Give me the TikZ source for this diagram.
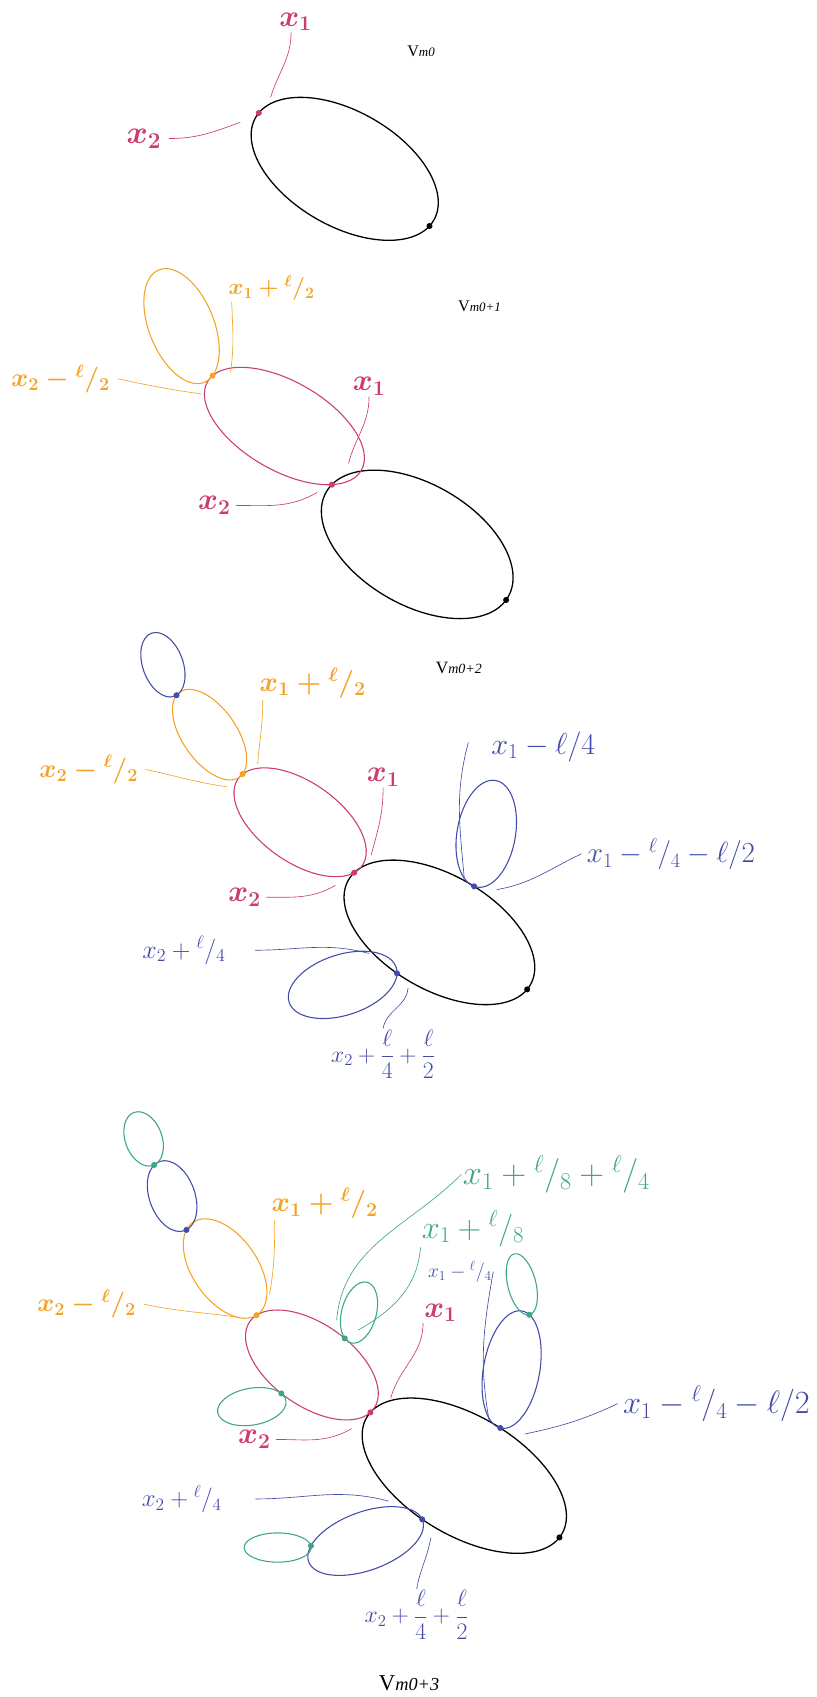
\RequirePackage{fix-cm}
\documentclass[tikz,border=0pt]{standalone}
\usepackage{amsmath}
\usepackage{fontspec}
\setmainfont{Liberation Serif}
\usetikzlibrary{shapes.geometric}

\definecolor{rose}{RGB}{205,60,110}
\definecolor{orng}{RGB}{244,163,38}
\definecolor{bleu}{RGB}{66,76,168}
\definecolor{vert}{RGB}{62,166,136}

\newcommand\nf[2]{{}^{#1}/_{#2}}
\newcommand\taille[1]{\fontsize{#1}{#1}\selectfont}

\tikzset{
  boucle/.style={draw=#1, ellipse, inner sep=0pt, outer sep=0pt, line width=1pt},
  ray/.style 2 args={minimum width=#1*2bp, minimum height=#2*2bp},
  lien/.style={draw=#1, line width=0.6pt},
  lab/.style={text=#1, inner sep=1pt},
}

\begin{document}
\begin{tikzpicture}[x=1bp, y=-1bp]
  \useasboundingbox (0,0) rectangle (754,1568);

  % Les titres
  \node[font=\taille{15}] (v0) at (389,47) {V{\taille{12}\itshape m0}};
  \node[font=\taille{15}] (v1) at (443,283) {V{\taille{12}\itshape m0+1}};
  \node[font=\taille{16}] (v2) at (424,617) {V{\taille{13}\itshape m0+2}};
  \node[font=\taille{21}] (v3) at (378,1555) {V{\taille{17}\itshape m0+3}};

  % Etape 0
  \node[boucle=black, ray={95}{53}, rotate=-30, line width=1.2pt] (A1) at (318.5,156) {};
  \coordinate (a1) at (A1.177);
  \coordinate (a1n) at (A1.-4);
  \node[lab=rose, font=\taille{28}\boldmath] (l1x1) at (273,20) {$x_1$};
  \node[lab=rose, font=\taille{30}\boldmath] (l1x2) at (133,128) {$x_2$};
  \coordinate (e1x1) at (250,90);
  \coordinate (e1x2) at (222,113);
  \draw[lien=rose] ([xshift=-4bp]l1x1.south) to[out=-90, in=73] (e1x1);
  \draw[lien=rose] ([xshift=6bp]l1x2.east) to[out=0, in=200] (e1x2);

  % Etape 1
  \node[boucle=black, ray={97}{56}, rotate=-30, line width=1.2pt] (B2) at (385.5,503) {};
  \coordinate (b2) at (B2.175);
  \coordinate (b2n) at (B2.-2);
  \node[boucle=rose, ray={82}{41}, rotate=-30, anchor=-21] (M2) at (b2) {};
  \coordinate (m2) at (M2.175);
  \node[boucle=orng, ray={56}{30}, rotate=-68, anchor=10] (O2) at (m2) {};

  \node[lab=orng, font=\taille{21}\boldmath] (l2o1) at (251,266) {$x_1+\nf{\ell}{2}$};
  \node[lab=orng, font=\taille{24}\boldmath] (l2o2) at (56,350) {$x_2-\nf{\ell}{2}$};
  \node[lab=rose, font=\taille{28}\boldmath] (l2x1) at (341,357) {$x_1$};
  \node[lab=rose, font=\taille{28}\boldmath] (l2x2) at (198,467) {$x_2$};
  \coordinate (e2o1) at (213,344);
  \coordinate (e2o2) at (186,364);
  \coordinate (e2x1) at (322,428);
  \coordinate (e2x2) at (293,455);
  \draw[lien=orng] ([xshift=4bp]l2o1.south west) to[out=-88, in=82] (e2o1);
  \draw[lien=orng] ([xshift=6bp]l2o2.east) to[out=-12, in=172] (e2o2);
  \draw[lien=rose] (l2x1.south) to[out=-90, in=75] (e2x1);
  \draw[lien=rose] ([xshift=4bp]l2x2.east) to[out=0, in=210] (e2x2);

  % Etape 2
  \node[boucle=black, ray={97}{53}, rotate=-30, line width=1.2pt] (B3) at (406,861.5) {};
  \coordinate (b3) at (B3.175);
  \coordinate (b3n) at (B3.-3);
  \coordinate (b3h) at (B3.83);
  \coordinate (b3b) at (B3.-106);
  \node[boucle=rose, ray={70}{37}, rotate=-35, anchor=-8] (M3) at (b3) {};
  \coordinate (m3) at (M3.175);
  \node[boucle=orng, ray={48}{25}, rotate=-55, anchor=5] (O3) at (m3) {};
  \coordinate (o3) at (O3.185);
  \node[boucle=bleu, ray={31}{18.6}, rotate=-70, anchor=4] (T3) at (o3) {};
  \node[boucle=bleu, ray={50}{27}, rotate=-100, anchor=-3] (H3) at (b3h) {};
  \node[boucle=bleu, ray={52}{28}, rotate=18, anchor=-6] (L3) at (b3b) {};

  \node[lab=orng, font=\taille{26}\boldmath] (l3o1) at (289,631) {$x_1+\nf{\ell}{2}$};
  \node[lab=orng, font=\taille{24}\boldmath] (l3o2) at (82,711) {$x_2-\nf{\ell}{2}$};
  \node[lab=rose, font=\taille{28}\boldmath] (l3x1) at (354,718) {$x_1$};
  \node[lab=rose, font=\taille{28}\boldmath] (l3x2) at (226,829) {$x_2$};
  \node[lab=bleu, font=\taille{28}] (l3b1) at (502,690) {$x_1-\ell/4$};
  \node[lab=bleu, font=\taille{27}] (l3b2) at (620,789) {$x_1-\nf{\ell}{4}-\ell/2$};
  \node[lab=bleu, font=\taille{24}] (l3b3) at (170,878) {$x_2+\nf{\ell}{4}$};
  \node[lab=bleu, font=\taille{22}] (l3b4) at (354,974) {$x_2+\dfrac{\ell}{4}+\dfrac{\ell}{2}$};
  \coordinate (e3o1) at (238,706);
  \coordinate (e3o2) at (210,727);
  \coordinate (e3x1) at (343,790);
  \coordinate (e3x2) at (310,818);
  \coordinate (e3b1) at (429,812);
  \coordinate (e3b2) at (459,822);
  \coordinate (e3b3) at (341,881);
  \coordinate (e3b4) at (377,913);
  \draw[lien=orng] ([xshift=4bp]l3o1.south west) to[out=-90, in=85] (e3o1);
  \draw[lien=orng] ([xshift=6bp]l3o2.east) to[out=-12, in=172] (e3o2);
  \draw[lien=rose] (l3x1.south) to[out=-90, in=75] (e3x1);
  \draw[lien=rose] ([xshift=4bp]l3x2.east) to[out=0, in=210] (e3x2);
  \draw[lien=bleu] ([xshift=-20bp, yshift=4bp]l3b1.west) to[out=-105, in=95] (e3b1);
  \draw[lien=bleu] ([xshift=-4bp]l3b2.west) to[out=205, in=10] (e3b2);
  \draw[lien=bleu] ([xshift=26bp]l3b3.east) to[out=0, in=165] (e3b3);
  \draw[lien=bleu] (l3b4.north) to[out=80, in=-95] (e3b4);

  % Etape 3
  \node[boucle=black, ray={105}{55}, rotate=-31, line width=1.2pt] (B4) at (429,1363.5) {};
  \coordinate (b4) at (B4.177);
  \coordinate (b4n) at (B4.-2);
  \coordinate (b4h) at (B4.84);
  \coordinate (b4b) at (B4.-103);
  \node[boucle=rose, ray={70}{38}, rotate=-35, anchor=-4] (M4) at (b4) {};
  \coordinate (m4) at (M4.173);
  \coordinate (m4h) at (M4.74);
  \coordinate (m4b) at (M4.-102);
  \node[boucle=orng, ray={52}{30}, rotate=-55, anchor=-1] (O4) at (m4) {};
  \coordinate (o4) at (O4.190);
  \node[boucle=bleu, ray={34}{21}, rotate=-70, anchor=3] (T4) at (o4) {};
  \coordinate (t4) at (T4.190);
  \node[boucle=vert, ray={26}{17}, rotate=-70, anchor=2] (G4) at (t4) {};
  \node[boucle=vert, ray={29}{16}, rotate=-105, anchor=-14] (GH4) at (m4h) {};
  \node[boucle=vert, ray={32}{17}, rotate=10, anchor=14] (GB4) at (m4b) {};
  \node[boucle=bleu, ray={55}{26}, rotate=-100, anchor=-1] (H4) at (b4h) {};
  \coordinate (h4) at (H4.172);
  \node[boucle=vert, ray={29}{13}, rotate=-76, anchor=0] (GR4) at (h4) {};
  \node[boucle=bleu, ray={56}{27}, rotate=20, anchor=1] (L4) at (b4b) {};
  \coordinate (q4) at (L4.165);
  \node[boucle=vert, ray={31}{13.5}, anchor=3] (GL4) at (q4) {};

  \node[lab=orng, font=\taille{26}\boldmath] (l4o1) at (300,1112) {$x_1+\nf{\ell}{2}$};
  \node[lab=orng, font=\taille{24}\boldmath] (l4o2) at (80,1205) {$x_2-\nf{\ell}{2}$};
  \node[lab=vert, font=\taille{32}] (l4g1) at (514,1085) {$x_1+\nf{\ell}{8}+\nf{\ell}{4}$};
  \node[lab=vert, font=\taille{30}] (l4g2) at (437,1135) {$x_1+\nf{\ell}{8}$};
  \node[lab=rose, font=\taille{28}\boldmath] (l4x1) at (407,1213) {$x_1$};
  \node[lab=rose, font=\taille{28}\boldmath] (l4x2) at (235,1330) {$x_2$};
  \node[lab=bleu, font=\taille{18}] (l4b1) at (425,1175) {$x_1-\nf{\ell}{4}$};
  \node[lab=bleu, font=\taille{30}] (l4b2) at (662,1297) {$x_1-\nf{\ell}{4}-\ell/2$};
  \node[lab=bleu, font=\taille{23}] (l4b3) at (168,1385) {$x_2+\nf{\ell}{4}$};
  \node[lab=bleu, font=\taille{22}] (l4b4) at (385,1492) {$x_2+\dfrac{\ell}{4}+\dfrac{\ell}{2}$};
  \coordinate (e4o1) at (249,1196);
  \coordinate (e4o2) at (219,1217);
  \coordinate (e4g1) at (311,1220);
  \coordinate (e4g2) at (331,1229);
  \coordinate (e4x1) at (361,1292);
  \coordinate (e4x2) at (325,1320);
  \coordinate (e4b1) at (452,1313);
  \coordinate (e4b2) at (485,1325);
  \coordinate (e4b3) at (359,1387);
  \coordinate (e4b4) at (398,1421);
  \draw[lien=orng] ([xshift=4bp]l4o1.south west) to[out=-90, in=80] (e4o1);
  \draw[lien=orng] ([xshift=6bp]l4o2.east) to[out=-12, in=172] (e4o2);
  \draw[lien=vert] (l4g1.west) to[out=225, in=85] (e4g1);
  \draw[lien=vert] (l4g2.south west) to[out=-95, in=30] (e4g2);
  \draw[lien=rose] (l4x1.south west) to[out=-90, in=75] (e4x1);
  \draw[lien=rose] ([xshift=4bp]l4x2.east) to[out=0, in=210] (e4x2);
  \draw[lien=bleu] (l4b1.east) to[out=-100, in=100] (e4b1);
  \draw[lien=bleu] ([xshift=-4bp]l4b2.west) to[out=205, in=12] (e4b2);
  \draw[lien=bleu] ([xshift=30bp]l4b3.east) to[out=0, in=165] (e4b3);
  \draw[lien=bleu] (l4b4.north) to[out=80, in=-100] (e4b4);

  % Les points
  \foreach \p/\c in {a1/rose, a1n/black, b2/rose, b2n/black, m2/orng,
      b3/rose, b3n/black, b3h/bleu, b3b/bleu, m3/orng, o3/bleu,
      b4/rose, b4n/black, b4h/bleu, b4b/bleu, m4/orng, m4h/vert, m4b/vert,
      o4/bleu, t4/vert, h4/vert, q4/vert}
    \fill[\c] (\p) circle (2.8bp);
\end{tikzpicture}
\end{document}
